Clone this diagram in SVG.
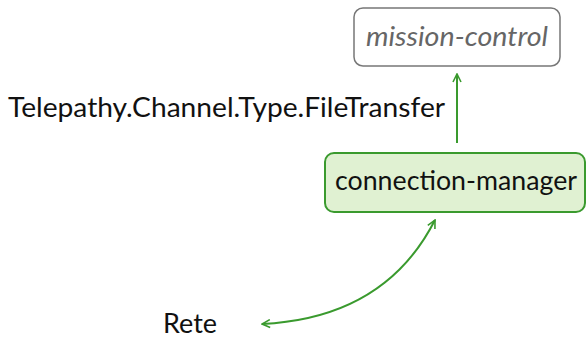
<svg xmlns="http://www.w3.org/2000/svg" width="586" height="340" viewBox="0 0 586 340">
  <style>
    text { font-family: "Lato", "DejaVu Sans", sans-serif; font-size: 27px; }
    .box-gray { fill: #ffffff; stroke: #777777; stroke-width: 1.5; }
    .box-green { fill: #e0f1d2; stroke: #3a9a2e; stroke-width: 2; }
    .label-gray { fill: #666666; font-style: italic; }
    .label { fill: #111111; }
    .edge { fill: none; stroke: #3a9a2e; stroke-width: 2; }
  </style>
  <defs>
    <marker id="open-arrow" viewBox="0 0 10 10" refX="9" refY="5" markerWidth="10" markerHeight="10" markerUnits="userSpaceOnUse" orient="auto-start-reverse">
      <path d="M1 1 L9 5 L1 9" fill="none" stroke="#3a9a2e" stroke-width="1.6"/>
    </marker>
  </defs>

  <g id="mission-control">
    <rect class="box-gray" x="354" y="8" width="206" height="58" rx="9"/>
    <text class="label-gray" x="366" y="46" textLength="182" lengthAdjust="spacingAndGlyphs">mission-control</text>
  </g>

  <g id="connection-manager">
    <rect class="box-green" x="325" y="153" width="260" height="59" rx="9"/>
    <text class="label" x="335" y="190" textLength="242" lengthAdjust="spacingAndGlyphs">connection-manager</text>
  </g>

  <g id="rete">
    <text class="label" x="163" y="333" textLength="54" lengthAdjust="spacingAndGlyphs">Rete</text>
  </g>

  <g id="connectors">
    <line class="edge" x1="457" y1="143" x2="457" y2="74" marker-end="url(#open-arrow)"/>
    <text class="label" x="8" y="117" textLength="437" lengthAdjust="spacingAndGlyphs">Telepathy.Channel.Type.FileTransfer</text>
    <path class="edge" d="M435 220 Q385 318 262 324" marker-start="url(#open-arrow)" marker-end="url(#open-arrow)"/>
  </g>
</svg>
